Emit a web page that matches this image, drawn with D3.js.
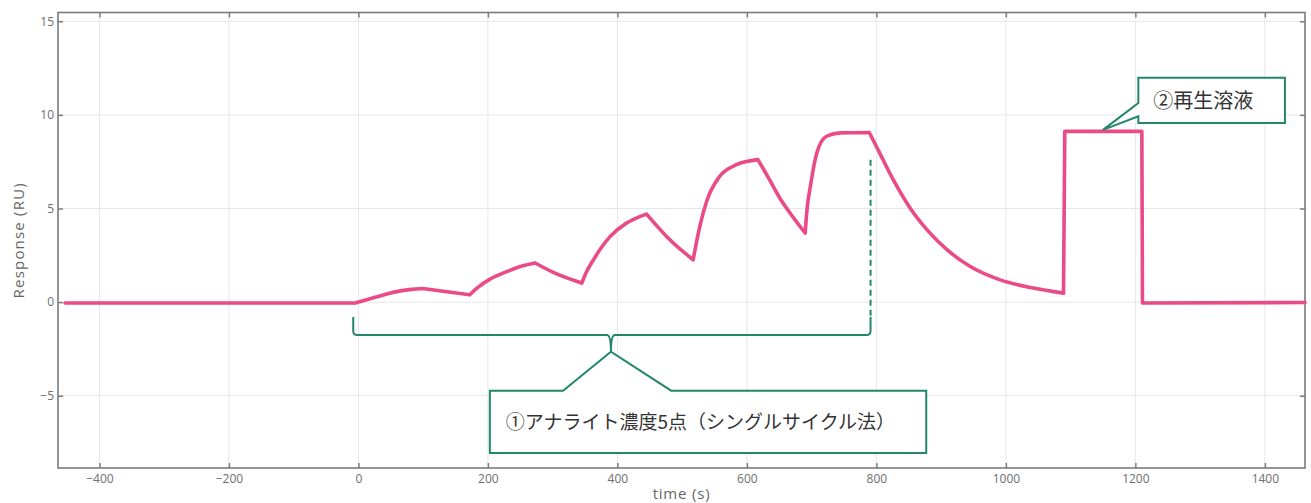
<!DOCTYPE html>
<html>
<head>
<meta charset="utf-8">
<script src="https://cdn.jsdelivr.net/npm/d3@7"></script>
<style>
  html, body { margin: 0; padding: 0; background: #fff; }
  svg { display: block; }
</style>
</head>
<body>
<svg id="chart" width="1311" height="503"></svg>
<script>
// ---------------- data ----------------
const times = [
  -453, -5, 10, 27, 45, 65, 82, 99,
  172, 185, 202, 230, 250, 273,
  301, 345,
  352, 363, 375, 389, 414, 430, 445,
  481, 517,
  521, 527, 538, 558, 584, 617,
  634, 651, 670, 690,
  693, 698, 708, 723, 744, 789,
  805, 826, 852, 878, 909, 945, 991, 1042, 1089,
  1091, 1210,
  1211, 1462
];
const response = [
  -0.05, -0.05, 0.1, 0.27, 0.45, 0.6, 0.68, 0.73,
  0.39, 0.8, 1.2, 1.64, 1.9, 2.09,
  1.59, 1.02,
  1.6, 2.26, 2.9, 3.51, 4.22, 4.5, 4.7,
  3.33, 2.26,
  3.0, 4.0, 5.4, 6.72, 7.34, 7.61,
  6.6, 5.55, 4.6, 3.69,
  5.0, 6.18, 7.97, 8.86, 9.04, 9.06,
  7.97, 6.54, 5.03, 3.87, 2.8, 1.9, 1.19, 0.75, 0.48,
  9.12, 9.12,
  -0.05, -0.02
];
// phase boundaries (injection start / stop times)
const kinkTimes = [-5, 99, 172, 273, 345, 445, 517, 617, 690, 789, 1089, 1091, 1210, 1211];

const xTicks = [-400, -200, 0, 200, 400, 600, 800, 1000, 1200, 1400];
const yTicks = [-5, 0, 5, 10, 15];
const xDomain = [-464, 1462];
const yDomain = [-8.86, 15.47];

const xTitle = "time (s)";
const yTitle = "Response (RU)";
const label1 = "①アナライト濃度5点（シングルサイクル法）";
const label2 = "②再生溶液";

// annotation anchors in data units
const brace = { x0: -8, x1: 791, xMid: 390, yTop: -0.8, yBar: -1.75, yTip: -2.65 };
const dashTop = 7.6;
const box1 = { x0: 203, x1: 877, y0: -4.73, y1: -8.06, pA: 316, pB: 483 };
const box2 = { x0: 1204.6, x1: 1431, y0: 11.98, y1: 9.57, pA: 10.64, pB: 9.93, tipX: 1150, tipY: 9.2 };

// ---------------- drawing ----------------
const L = 58, R = 1305, T = 12.5, B = 468;
const pink = "#ea4a86";
const green = "#22876b";
const axisGrey = "#7b7b7b";
const labelGrey = "#6e6e6e";

const svg = d3.select("#chart");
const x = d3.scaleLinear().domain(xDomain).range([L, R]);
const y = d3.scaleLinear().domain(yDomain).range([B, T]);

// grid
svg.append("g").selectAll("line").data(xTicks).join("line")
  .attr("x1", d => x(d)).attr("x2", d => x(d))
  .attr("y1", T).attr("y2", B)
  .attr("stroke", "#e7e7e7").attr("stroke-width", 1);
svg.append("g").selectAll("line").data(yTicks).join("line")
  .attr("x1", L).attr("x2", R)
  .attr("y1", d => y(d)).attr("y2", d => y(d))
  .attr("stroke", "#e7e7e7").attr("stroke-width", 1);

// axes
const fmt = d3.format("d");
const gx = svg.append("g").attr("transform", `translate(0,${B})`)
  .call(d3.axisBottom(x).tickValues(xTicks).tickSize(-5).tickPadding(6).tickFormat(d => fmt(d)));
const gxt = svg.append("g").attr("transform", `translate(0,${T})`)
  .call(d3.axisTop(x).tickValues(xTicks).tickSize(-5).tickFormat(""));
const gy = svg.append("g").attr("transform", `translate(${L},0)`)
  .call(d3.axisLeft(y).tickValues(yTicks).tickSize(-5).tickPadding(4).tickFormat(d => fmt(d)));
const gyr = svg.append("g").attr("transform", `translate(${R},0)`)
  .call(d3.axisRight(y).tickValues(yTicks).tickSize(-5).tickFormat(""));
[gx, gxt, gy, gyr].forEach(g => {
  g.select(".domain").remove();
  g.selectAll(".tick line").attr("stroke", axisGrey).attr("stroke-width", 1.5);
  g.selectAll("text").attr("fill", labelGrey)
    .style("font-family", "'Open Sans', sans-serif").style("font-size", "12px");
});

// frame
svg.append("rect").attr("x", L).attr("y", T).attr("width", R - L).attr("height", B - T)
  .attr("fill", "none").attr("stroke", axisGrey).attr("stroke-width", 1.6);

// axis titles
svg.append("text").attr("x", (L + R) / 2).attr("y", 499)
  .attr("text-anchor", "middle").attr("fill", "#666")
  .style("font-family", "'Open Sans', sans-serif").style("font-size", "15px")
  .style("letter-spacing", "0.8px").text(xTitle);
svg.append("text").attr("transform", `translate(24,${(T + B) / 2}) rotate(-90)`)
  .attr("text-anchor", "middle").attr("fill", "#666")
  .style("font-family", "'Open Sans', sans-serif").style("font-size", "15px")
  .style("letter-spacing", "1.2px").text(yTitle);

// sensorgram
const pts = times.map((t, i) => [t, response[i]]);
const segs = [];
for (let k = 0; k <= kinkTimes.length; k++) {
  const lo = k === 0 ? -Infinity : kinkTimes[k - 1];
  const hi = k === kinkTimes.length ? Infinity : kinkTimes[k];
  const s = pts.filter(p => p[0] >= lo && p[0] <= hi);
  if (s.length >= 2) segs.push(s);
}
const lineGen = d3.line().x(d => x(d[0])).y(d => y(d[1])).curve(d3.curveMonotoneX);
svg.append("path")
  .attr("d", segs.map(s => lineGen(s)).join(""))
  .attr("fill", "none").attr("stroke", pink).attr("stroke-width", 3.6)
  .attr("stroke-linejoin", "round").attr("stroke-linecap", "round");

// dashed marker at end of last injection
svg.append("line")
  .attr("x1", x(brace.x1)).attr("x2", x(brace.x1))
  .attr("y1", y(dashTop)).attr("y2", y(brace.yTop))
  .attr("stroke", green).attr("stroke-width", 2).attr("stroke-dasharray", "6,4");

// brace
const bx0 = x(brace.x0), bx1 = x(brace.x1), bm = x(brace.xMid);
const byT = y(brace.yTop), byB = y(brace.yBar), byTip = y(brace.yTip);
const r = 4;
const bracePath = [
  `M${bx0},${byT}`, `L${bx0},${byB - r}`, `Q${bx0},${byB} ${bx0 + r},${byB}`,
  `L${bm - r},${byB}`, `Q${bm},${byB} ${bm},${byTip}`,
  `Q${bm},${byB} ${bm + r},${byB}`,
  `L${bx1 - r},${byB}`, `Q${bx1},${byB} ${bx1},${byB - r}`, `L${bx1},${byT}`
].join(" ");
svg.append("path").attr("d", bracePath).attr("fill", "none")
  .attr("stroke", green).attr("stroke-width", 2);

// callout 1
const c1 = d3.path();
c1.moveTo(x(box1.x0), y(box1.y0));
c1.lineTo(x(box1.pA), y(box1.y0));
c1.lineTo(bm, byTip);
c1.lineTo(x(box1.pB), y(box1.y0));
c1.lineTo(x(box1.x1), y(box1.y0));
c1.lineTo(x(box1.x1), y(box1.y1));
c1.lineTo(x(box1.x0), y(box1.y1));
c1.closePath();
svg.append("path").attr("d", c1.toString()).attr("fill", "#fff")
  .attr("stroke", green).attr("stroke-width", 2);
svg.append("text")
  .attr("x", x(box1.x0) + 16)
  .attr("y", (y(box1.y0) + y(box1.y1)) / 2)
  .attr("dy", "0.36em").attr("fill", "#333")
  .style("font-family", "'Noto Sans CJK JP', sans-serif").style("font-size", "19px")
  .text(label1);

// callout 2
const c2 = d3.path();
c2.moveTo(x(box2.x0), y(box2.y0));
c2.lineTo(x(box2.x1), y(box2.y0));
c2.lineTo(x(box2.x1), y(box2.y1));
c2.lineTo(x(box2.x0), y(box2.y1));
c2.lineTo(x(box2.x0), y(box2.pB));
c2.lineTo(x(box2.tipX), y(box2.tipY));
c2.lineTo(x(box2.x0), y(box2.pA));
c2.closePath();
svg.append("path").attr("d", c2.toString()).attr("fill", "#fff")
  .attr("stroke", green).attr("stroke-width", 2);
svg.append("text")
  .attr("x", x(box2.x0) + 15)
  .attr("y", (y(box2.y0) + y(box2.y1)) / 2)
  .attr("dy", "0.36em").attr("fill", "#333")
  .style("font-family", "'Noto Sans CJK JP', sans-serif").style("font-size", "20px")
  .text(label2);
</script>
</body>
</html>
